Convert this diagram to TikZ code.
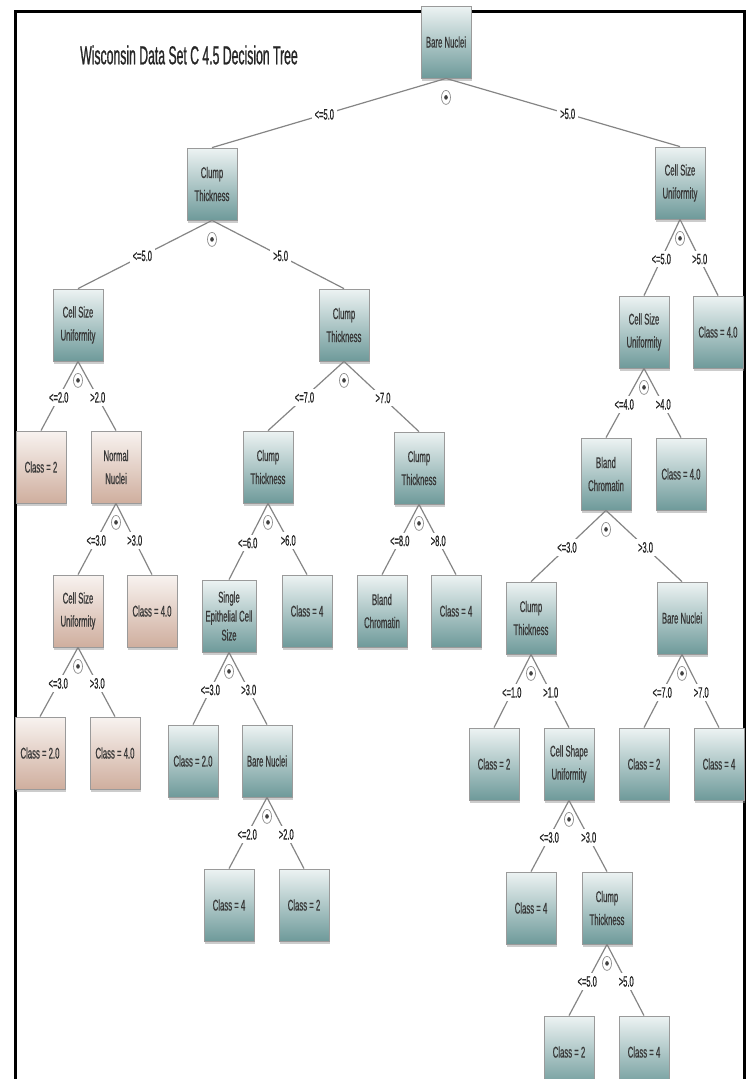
\documentclass[tikz,border=0pt]{standalone}
\usepackage{fontspec}
\newfontfamily\cf[FakeStretch=0.5,FakeBold=0.6]{Liberation Sans}
\newfontfamily\tf[FakeStretch=0.47,FakeBold=0.8]{Liberation Sans}
\usetikzlibrary{shapes.geometric,shadows}
\definecolor{tealtop}{HTML}{EDF3F3}
\definecolor{tealbot}{HTML}{6E9A9A}
\definecolor{peachtop}{HTML}{F8F3F0}
\definecolor{peachbot}{HTML}{CFAE9E}
\definecolor{edgegray}{HTML}{858585}
\definecolor{boxborder}{HTML}{9A9A9A}
\begin{document}
\begin{tikzpicture}[x=1pt,y=-1pt,
 box/.style={draw=boxborder, line width=0.8pt, minimum width=50pt, minimum height=72pt,
   inner sep=1pt, align=center,
   font=\cf\fontsize{15.5}{23}\selectfont, text=black!78,
   drop shadow={shadow xshift=0.6pt, shadow yshift=-2.5pt, fill=black!40}},
 tbox/.style={box, top color=tealtop, bottom color=tealbot},
 pbox/.style={box, top color=peachtop, bottom color=peachbot},
 edge/.style={draw=edgegray, line width=1.2pt},
 lbl/.style={fill=white, inner sep=3pt, font=\cf\fontsize{15}{15}\selectfont, text=black!85, pos=0.52},
 toggle/.style={ellipse, draw=black!45, line width=0.7pt, fill=white, minimum width=9pt,
   minimum height=14pt, inner sep=0pt,
   path picture={\fill[black!75] (path picture bounding box.center) ellipse (1.8pt and 2.3pt);}}
]
\useasboundingbox (0,0) rectangle (748,1079);
\clip (0,0) rectangle (748,1079);
\draw[line width=3pt] (15,1085) -- (15,11) -- (744,11) -- (744,1085);
\node[font=\tf\fontsize{26}{26}\selectfont, text=black!85] (title) at (189,55) {Wisconsin Data Set C 4.5 Decision Tree};

\node[tbox] (root) at (446,42) {Bare Nuclei};
\node[tbox] (ct1) at (212,184) {Clump\\Thickness};
\node[tbox] (csu1) at (680,183) {Cell Size\\Uniformity};
\node[tbox] (csu2l) at (78,325) {Cell Size\\Uniformity};
\node[tbox] (ct2m) at (344,325) {Clump\\Thickness};
\node[tbox] (csu2r) at (644,332) {Cell Size\\Uniformity};
\node[tbox] (c40a) at (718,332) {Class = 4.0};
\node[pbox] (c2a) at (41,467) {Class = 2};
\node[pbox] (nn) at (116,467) {Normal\\Nuclei};
\node[tbox] (ct3a) at (268,467) {Clump\\Thickness};
\node[tbox] (ct3b) at (419,468) {Clump\\Thickness};
\node[tbox] (bc3) at (606,474) {Bland\\Chromatin};
\node[tbox] (c40b) at (681,474) {Class = 4.0};
\node[pbox] (csu4) at (78,611) {Cell Size\\Uniformity};
\node[pbox] (c40c) at (152,611) {Class = 4.0};
\node[tbox, minimum width=54pt, font=\cf\fontsize{15.5}{19}\selectfont] (secs) at (229,616) {Single\\Epithelial Cell\\Size};
\node[tbox] (c4a) at (307,611) {Class = 4};
\node[tbox] (bc4) at (382,611) {Bland\\Chromatin};
\node[tbox] (c4b) at (456,611) {Class = 4};
\node[tbox] (ct4) at (531,618) {Clump\\Thickness};
\node[tbox] (bn4) at (682,618) {Bare Nuclei};
\node[pbox] (c20a) at (40,753) {Class = 2.0};
\node[pbox] (c40d) at (115,753) {Class = 4.0};
\node[tbox] (c20b) at (193,761) {Class = 2.0};
\node[tbox] (bn5) at (267,761) {Bare Nuclei};
\node[tbox] (c2b) at (494,764) {Class = 2};
\node[tbox] (cshu) at (569,764) {Cell Shape\\Uniformity};
\node[tbox] (c2c) at (644,764) {Class = 2};
\node[tbox] (c4c) at (719,764) {Class = 4};
\node[tbox] (c4d) at (229,905) {Class = 4};
\node[tbox] (c2d) at (304,905) {Class = 2};
\node[tbox] (c4e) at (531,908) {Class = 4};
\node[tbox] (ct6) at (607,908) {Clump\\Thickness};
\node[tbox] (c2e) at (569,1052) {Class = 2};
\node[tbox] (c4f) at (644,1052) {Class = 4};

\foreach \p/\c/\l in {root/ct1/<=5.0, root/csu1/>5.0,
  ct1/csu2l/<=5.0, ct1/ct2m/>5.0, csu1/csu2r/<=5.0, csu1/c40a/>5.0,
  csu2l/c2a/<=2.0, csu2l/nn/>2.0, ct2m/ct3a/<=7.0, ct2m/ct3b/>7.0,
  csu2r/bc3/<=4.0, csu2r/c40b/>4.0, nn/csu4/<=3.0, nn/c40c/>3.0,
  ct3a/secs/<=6.0, ct3a/c4a/>6.0, ct3b/bc4/<=8.0, ct3b/c4b/>8.0,
  bc3/ct4/<=3.0, bc3/bn4/>3.0, csu4/c20a/<=3.0, csu4/c40d/>3.0,
  secs/c20b/<=3.0, secs/bn5/>3.0, ct4/c2b/<=1.0, ct4/cshu/>1.0,
  bn4/c2c/<=7.0, bn4/c4c/>7.0, bn5/c4d/<=2.0, bn5/c2d/>2.0,
  cshu/c4e/<=3.0, cshu/ct6/>3.0, ct6/c2e/<=5.0, ct6/c4f/>5.0}
  \draw[edge] (\p.south) -- node[lbl] {\l} (\c.north);

\foreach \n in {root,ct1,csu1,csu2l,ct2m,csu2r,nn,ct3a,ct3b,bc3,csu4,secs,ct4,bn4,bn5,cshu,ct6}
  \node[toggle] (tg-\n) at ([yshift=-19pt]\n.south) {};
\end{tikzpicture}
\end{document}
